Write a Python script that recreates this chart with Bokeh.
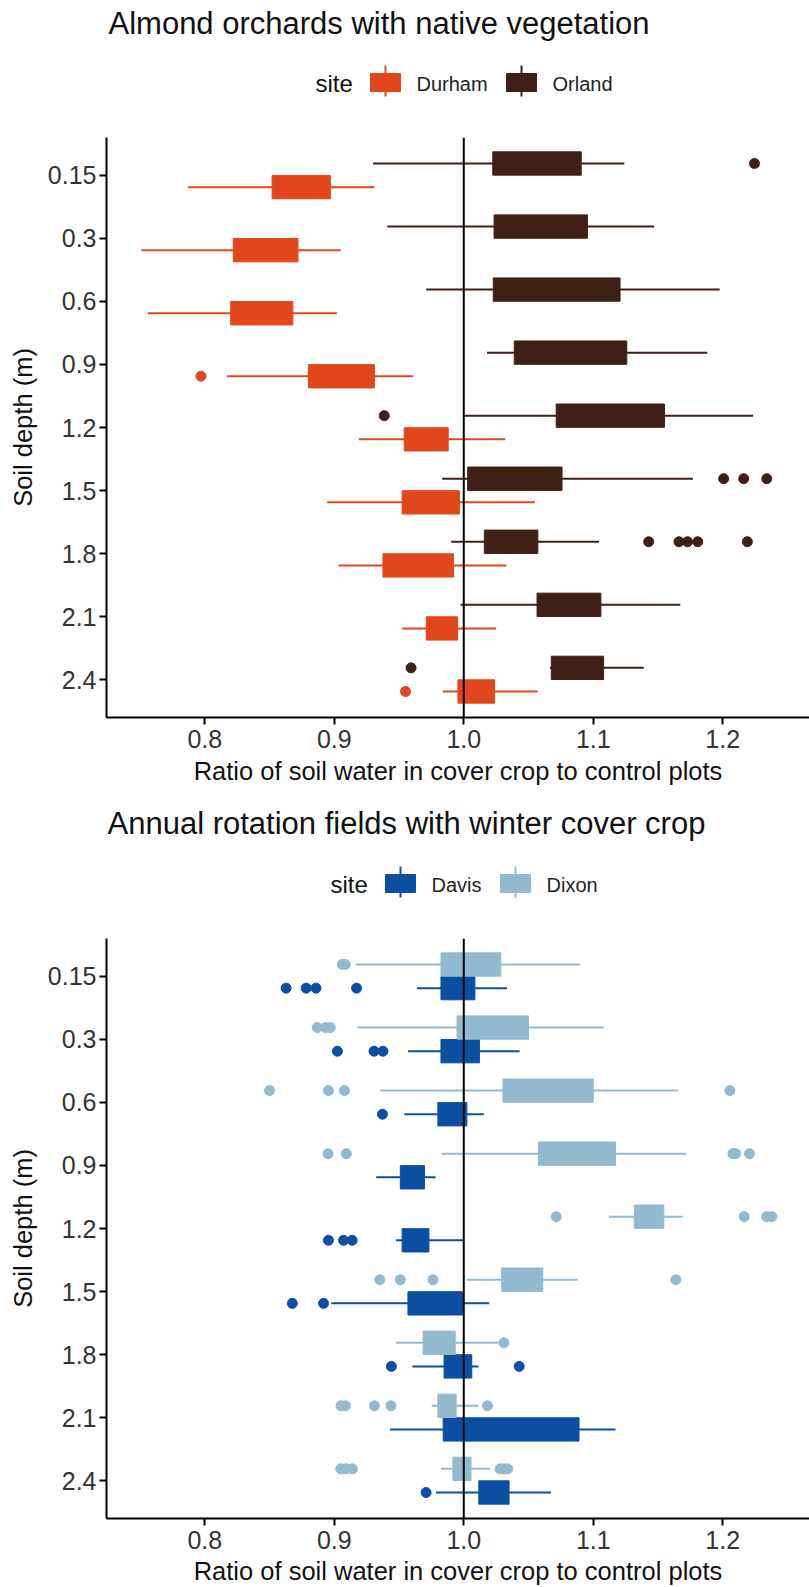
from bokeh.plotting import figure
from bokeh.models import Range1d, FactorRange, Span, ColumnDataSource
from bokeh.transform import dodge
from bokeh.layouts import column
from bokeh.core.properties import value
from bokeh.embed import file_html
from bokeh.resources import INLINE

# ---------------- data ----------------
depths = ["0.15", "0.3", "0.6", "0.9", "1.2", "1.5", "1.8", "2.1", "2.4"]

# Almond orchards
durham_lo = [0.787, 0.751, 0.756, 0.817, 0.919, 0.8945, 0.9034, 0.9524, 0.9838]
durham_q1 = [0.852, 0.822, 0.820, 0.880, 0.954, 0.9524, 0.9376, 0.971, 0.9955]
durham_q3 = [0.897, 0.872, 0.868, 0.931, 0.988, 0.9966, 0.9921, 0.9952, 1.0238]
durham_hi = [0.931, 0.905, 0.902, 0.961, 1.032, 1.055, 1.033, 1.025, 1.057]
durham_out_depth = ["0.9", "2.4"]
durham_out_val = [0.797, 0.955]

orland_lo = [0.930, 0.941, 0.971, 1.018, 1.000, 0.9834, 0.9903, 0.9976, 1.0666]
orland_q1 = [1.0224, 1.0234, 1.0228, 1.039, 1.0714, 1.003, 1.0159, 1.0566, 1.0676]
orland_q3 = [1.0907, 1.0955, 1.1207, 1.1259, 1.155, 1.0759, 1.0572, 1.1059, 1.108]
orland_hi = [1.124, 1.147, 1.1976, 1.188, 1.2234, 1.177, 1.1045, 1.1672, 1.139]
orland_out_depth = ["0.15", "1.2", "1.5", "1.5", "1.5", "1.8", "1.8", "1.8", "1.8", "1.8", "2.4"]
orland_out_val = [1.2245, 0.9386, 1.2007, 1.2162, 1.234, 1.1428, 1.1662, 1.1728, 1.1807, 1.219, 0.9593]

# Annual rotation fields
davis_lo = [0.9638, 0.9569, 0.9541, 0.9324, 0.9476, 0.8976, 0.9603, 0.9431, 0.9785]
davis_q1 = [0.9824, 0.9824, 0.980, 0.951, 0.9524, 0.9569, 0.9848, 0.9841, 1.0116]
davis_q3 = [1.0086, 1.0121, 1.0024, 0.9697, 0.9731, 0.999, 1.0062, 1.089, 1.035]
davis_hi = [1.0334, 1.0431, 1.0155, 0.9783, 0.9993, 1.0197, 1.0114, 1.1172, 1.0673]
davis_out_depth = ["0.15", "0.15", "0.15", "0.15", "0.3", "0.3", "0.3", "0.6",
                   "1.2", "1.2", "1.2", "1.5", "1.5", "1.8", "1.8", "2.4"]
davis_out_val = [0.8628, 0.8783, 0.8859, 0.9172, 0.9024, 0.9307, 0.9376, 0.9372,
                 0.8955, 0.9072, 0.9138, 0.8676, 0.8917, 0.9441, 1.0428, 0.9709]

dixon_lo = [0.9166, 0.918, 0.9355, 0.9828, 1.112, 1.0024, 0.9476, 0.9752, 0.9825]
dixon_q1 = [0.9824, 0.9948, 1.0303, 1.0576, 1.1317, 1.0293, 0.9686, 0.980, 0.9916]
dixon_q3 = [1.0286, 1.05, 1.1, 1.1172, 1.1545, 1.061, 0.9934, 0.9941, 1.0056]
dixon_hi = [1.0897, 1.108, 1.1655, 1.1717, 1.169, 1.0879, 1.0266, 1.0114, 1.0203]
dixon_out_depth = ["0.15", "0.15", "0.3", "0.3", "0.3", "0.6", "0.6", "0.6", "0.6",
                   "0.9", "0.9", "0.9", "0.9", "0.9", "1.2", "1.2", "1.2", "1.2",
                   "1.5", "1.5", "1.5", "1.5", "1.8", "2.1", "2.1", "2.1", "2.1", "2.1",
                   "2.4", "2.4", "2.4", "2.4", "2.4", "2.4"]
dixon_out_val = [0.9062, 0.9085, 0.8869, 0.8931, 0.8969, 0.85, 0.8955, 0.9079, 1.2055,
                 0.8952, 0.9093, 1.2079, 1.21, 1.2207, 1.0714, 1.2166, 1.2338, 1.2379,
                 0.9352, 0.951, 0.9762, 1.1638, 1.031, 0.9052, 0.9086, 0.931, 0.9438, 1.0183,
                 0.905, 0.909, 0.914, 1.028, 1.031, 1.034]

x_ticks = [0.8, 0.9, 1.0, 1.1, 1.2]
ref_value = 1.0

# ---------------- style ----------------
FONT = "Liberation Sans"
C_DURHAM = "#E2471B"
C_ORLAND = "#3F2016"
C_DAVIS = "#0B4FA3"
C_DIXON = "#93B9CF"
W = 809
LEFT = 106
OFF = 0.1875
BOX_H = 0.37


def add_site(p, lo, q1, q3, hi, od, ov, color, off):
    src = ColumnDataSource(dict(depth=depths, lo=lo, q1=q1, q3=q3, hi=hi))
    y = dodge("depth", off, range=p.y_range)
    p.segment(x0="lo", x1="hi", y0=y, y1=y, source=src, line_color=color, line_width=2)
    p.hbar(y=y, left="q1", right="q3", height=BOX_H, source=src,
           fill_color=color, line_color=color, line_width=1)
    osrc = ColumnDataSource(dict(depth=od, v=ov))
    p.scatter(x="v", y=dodge("depth", off, range=p.y_range), source=osrc,
              size=10, fill_color=color, line_color=color)


def panel(height, border_bottom, label_standoff, sites):
    p = figure(width=W, height=height, output_backend="svg", toolbar_location=None,
               y_range=FactorRange(factors=depths[::-1], range_padding=0.1,
                                   range_padding_units="absolute"),
               x_range=Range1d(0.7241, 1.267),
               min_border_left=LEFT, min_border_right=0, min_border_top=0,
               min_border_bottom=border_bottom)
    p.outline_line_color = None
    p.xgrid.grid_line_color = None
    p.ygrid.grid_line_color = None
    for s in sites:
        add_site(p, *s)
    p.add_layout(Span(location=ref_value, dimension="height", line_color="black", line_width=2))
    p.xaxis.ticker = x_ticks
    p.xaxis.major_label_overrides = {0.8: "0.8", 0.9: "0.9", 1.0: "1.0", 1.1: "1.1", 1.2: "1.2"}
    p.xaxis.axis_label = "Ratio of soil water in cover crop to control plots"
    p.yaxis.axis_label = "Soil depth (m)"
    for ax in (p.xaxis[0], p.yaxis[0]):
        ax.axis_line_color = "black"
        ax.axis_line_width = 2
        ax.major_tick_line_color = "black"
        ax.major_tick_line_width = 2
        ax.major_tick_in = 0
        ax.major_tick_out = 7
        ax.minor_tick_line_color = None
        ax.major_label_text_font = FONT
        ax.major_label_text_font_size = "25px"
        ax.major_label_text_color = "#333333"
        ax.axis_label_text_font = FONT
        ax.axis_label_text_font_size = "25.5px"
        ax.axis_label_text_font_style = "normal"
        ax.axis_label_text_color = "#111111"
    p.xaxis.major_label_standoff = 5
    p.xaxis.axis_label_standoff = label_standoff
    p.yaxis.major_label_standoff = 3
    p.yaxis.axis_label_standoff = 8
    return p


def header(height, title, title_x, title_y, leg_x, leg_texts, keys, key_colors, leg_y):
    h = figure(width=W, height=height, output_backend="svg", toolbar_location=None,
               x_range=Range1d(LEFT, W), y_range=Range1d(height, 0),
               min_border_left=LEFT, min_border_right=0, min_border_top=0,
               min_border_bottom=0)
    h.axis.visible = False
    h.xgrid.grid_line_color = None
    h.ygrid.grid_line_color = None
    h.outline_line_color = None
    h.text(x=[title_x], y=[title_y], text=[title], text_font=value(FONT),
           text_font_size="31px", text_baseline="alphabetic", text_color="#111111")
    h.text(x=[leg_x[0]], y=[leg_y + 1], text=["site"], text_font=value(FONT),
           text_font_size="24px", text_baseline="alphabetic", text_color="#111111")
    h.text(x=leg_x[1:], y=[leg_y + 1] * 2, text=leg_texts, text_font=value(FONT),
           text_font_size="20px", text_baseline="alphabetic", text_color="#222222")
    h.segment(x0=keys, x1=keys, y0=[leg_y - 17] * 2, y1=[leg_y + 14] * 2,
              line_color=key_colors, line_width=2)
    h.rect(x=keys, y=[leg_y] * 2, width=30, height=18, fill_color=key_colors,
           line_color=key_colors)
    return h


h1 = header(137, "Almond orchards with native vegetation", 108, 23,
            [315, 416, 552], ["Durham", "Orland"], [385, 521], [C_DURHAM, C_ORLAND], 82)
p1 = panel(655, 75, 6, [
    (durham_lo, durham_q1, durham_q3, durham_hi, durham_out_depth, durham_out_val, C_DURHAM, -OFF),
    (orland_lo, orland_q1, orland_q3, orland_hi, orland_out_depth, orland_out_val, C_ORLAND, OFF),
])
h2 = header(146, "Annual rotation fields with winter cover crop", 107, 31,
            [330, 431, 546], ["Davis", "Dixon"], [400, 515], [C_DAVIS, C_DIXON], 91)
p2 = panel(649, 68, 5, [
    (davis_lo, davis_q1, davis_q3, davis_hi, davis_out_depth, davis_out_val, C_DAVIS, -OFF),
    (dixon_lo, dixon_q1, dixon_q3, dixon_hi, dixon_out_depth, dixon_out_val, C_DIXON, OFF),
])

layout = column(h1, p1, h2, p2, spacing=0)
open("out.html", "w").write(file_html(layout, INLINE))
